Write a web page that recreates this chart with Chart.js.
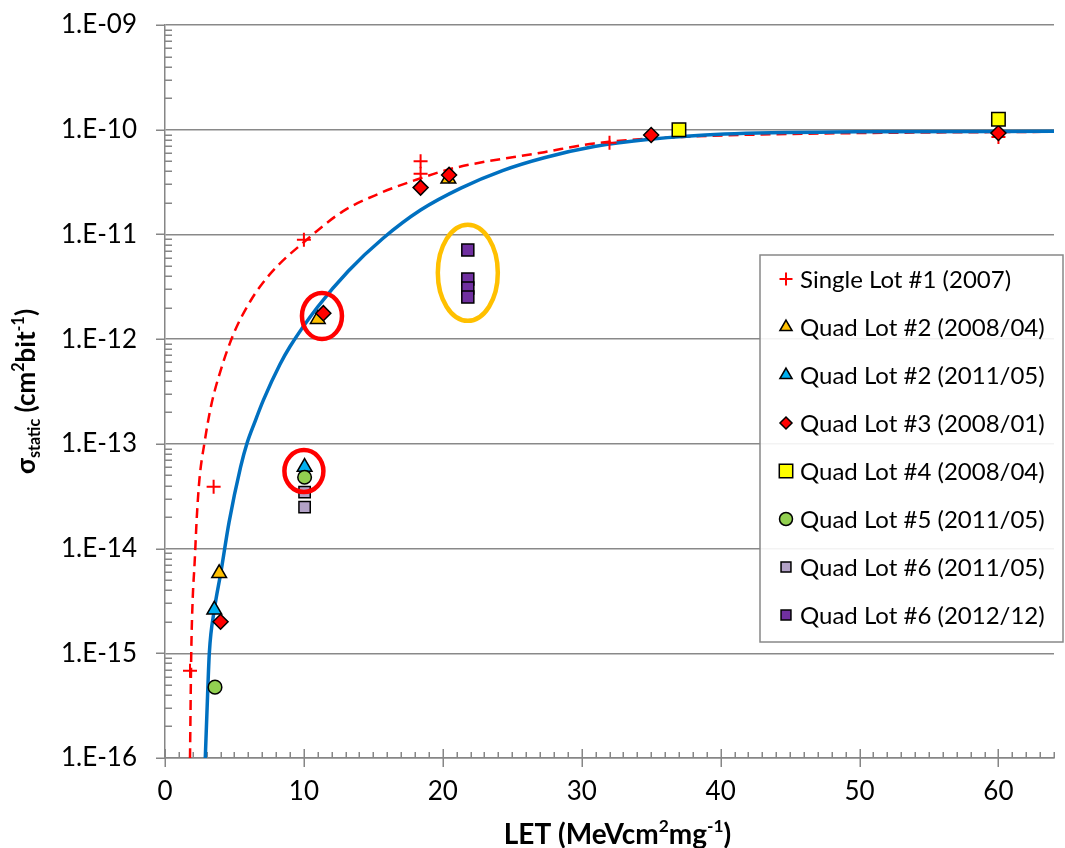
<!DOCTYPE html>
<html><head><meta charset="utf-8">
<script src="https://cdn.jsdelivr.net/npm/chart.js@4.4.1/dist/chart.umd.min.js"></script>
<style>html,body{margin:0;padding:0;background:#fff}canvas{display:block}</style>
</head><body>
<canvas id="c" width="1065" height="848"></canvas>
<script>
const FONT = 'Lato, "Open Sans", sans-serif';

// ---- data ----
const seriesLabels = [
  'Single Lot #1 (2007)', 'Quad Lot #2 (2008/04)', 'Quad Lot #2 (2011/05)', 'Quad Lot #3 (2008/01)',
  'Quad Lot #4 (2008/04)', 'Quad Lot #5 (2011/05)', 'Quad Lot #6 (2011/05)', 'Quad Lot #6 (2012/12)'
];
const single1X = [1.8, 3.5, 10.0, 18.4, 18.4, 32.0, 60.0];
const single1Y = [6.8e-16, 3.9e-14, 8.9e-12, 5.0e-11, 3.8e-11, 7.5e-11, 8.5e-11];
const quad2aX = [3.9, 11.0, 20.4];
const quad2aY = [5.8e-15, 1.55e-12, 3.4e-11];
const quad2bX = [3.55, 10.05];
const quad2bY = [2.6e-15, 6.0e-14];
const quad3X = [4.0, 11.4, 18.4, 20.45, 35.0, 60.0];
const quad3Y = [2.0e-15, 1.77e-12, 2.8e-11, 3.7e-11, 8.9e-11, 9.3e-11];
const quad4X = [37.0, 60.0];
const quad4Y = [1.0e-10, 1.26e-10];
const quad5X = [3.6, 10.05];
const quad5Y = [4.75e-16, 4.8e-14];
const quad6aX = [10.05, 10.05];
const quad6aY = [3.46e-14, 2.49e-14];
const quad6bX = [21.8, 21.8, 21.8, 21.8];
const quad6bY = [7.1e-12, 3.75e-12, 3.08e-12, 2.52e-12];

// fitted curves
const fitRedX = [1.8, 1.89, 1.99, 2.13, 2.29, 2.48, 2.84, 3.31, 4.02, 4.96, 6.14, 7.57, 10.2, 12.8, 15.4, 18.0, 20.8, 27.3, 30.9, 37.9, 45.0, 54.5, 64.0];
const fitRedY = [1e-16, 1e-15, 3.2e-15, 7.2e-15, 2.0e-14, 4.6e-14, 1.02e-13, 2.28e-13, 5.1e-13, 1.14e-12, 2.3e-12, 4.2e-12, 8.9e-12, 1.66e-11, 2.45e-11, 3.3e-11, 4.3e-11, 6.1e-11, 7.4e-11, 8.6e-11, 9.1e-11, 9.4e-11, 9.55e-11];
const fitBlueX = [2.9, 3.05, 3.19, 3.55, 4.02, 4.61, 5.44, 5.91, 6.5, 7.09, 8.28, 9.0, 11.0, 13.2, 15.7, 18.4, 21.3, 24.3, 27.3, 30.9, 34.9, 40.3, 49.8, 64.0];
const fitBlueY = [1e-16, 3.5e-16, 1e-15, 2.6e-15, 5.9e-15, 1.78e-14, 6.0e-14, 1.02e-13, 1.66e-13, 2.63e-13, 5.75e-13, 8.5e-13, 2.04e-12, 4.48e-12, 9.2e-12, 1.71e-11, 2.77e-11, 4.07e-11, 5.4e-11, 6.9e-11, 8.1e-11, 9.1e-11, 9.55e-11, 9.65e-11];

// highlight ellipses (centres in data units)
const highlightX = [11.3, 10.0, 21.8];
const highlightY = [1.66e-12, 5.5e-14, 4.3e-12];

const xTickValues = [0, 10, 20, 30, 40, 50, 60];
const yDecades = [-16, -15, -14, -13, -12, -11, -10, -9];

// ---- styles ----
const highlightStyle = [
  {rx: 20, ry: 23, color: '#FF0000'},
  {rx: 19.5, ry: 21, color: '#FF0000'},
  {rx: 30, ry: 48, color: '#FFC000'}
];
const markerStyles = [
  {pointStyle: 'cross', radius: 7, bg: '#FF0000', border: '#FF0000', bw: 2, lr: 6.5},
  {pointStyle: 'triangle', radius: 8.5, bg: '#FFC000', border: '#000', bw: 1.5, lr: 7},
  {pointStyle: 'triangle', radius: 8.5, bg: '#00B0F0', border: '#000', bw: 1.5, lr: 7},
  {pointStyle: 'rectRot', radius: 7.5, bg: '#FF0000', border: '#000', bw: 1.5, lr: 6},
  {pointStyle: 'rect', radius: 9.5, bg: '#FFFF00', border: '#000', bw: 1.5, lr: 9.5},
  {pointStyle: 'circle', radius: 6.8, bg: '#92D050', border: '#000', bw: 1.5, lr: 6.5},
  {pointStyle: 'rect', radius: 8, bg: '#B3A2C7', border: '#000', bw: 1.5, lr: 7},
  {pointStyle: 'rect', radius: 8.5, bg: '#7030A0', border: '#000', bw: 1.5, lr: 7}
];
const seriesX = [single1X, quad2aX, quad2bX, quad3X, quad4X, quad5X, quad6aX, quad6bX];
const seriesY = [single1Y, quad2aY, quad2bY, quad3Y, quad4Y, quad5Y, quad6aY, quad6bY];

const toPts = (xs, ys) => xs.map((x, i) => ({x, y: ys[i]}));

const datasets = [];
seriesLabels.forEach((lab, i) => {
  const s = markerStyles[i];
  datasets.push({
    label: lab, data: toPts(seriesX[i], seriesY[i]),
    pointStyle: s.pointStyle, pointRadius: s.radius, pointHoverRadius: s.radius,
    backgroundColor: s.bg, borderColor: s.border, borderWidth: s.bw,
    showLine: false, order: -i
  });
});
datasets.push({
  label: 'fitRed', data: toPts(fitRedX, fitRedY), showLine: true, pointRadius: 0,
  borderColor: '#FF0000', borderWidth: 2.5, borderDash: [10, 6], cubicInterpolationMode: 'monotone',
  order: 20
});
datasets.push({
  label: 'fitBlue', data: toPts(fitBlueX, fitBlueY), showLine: true, pointRadius: 0,
  borderColor: '#0070C0', borderWidth: 3.5, cubicInterpolationMode: 'monotone',
  order: 10
});

const isMajor = v => Math.abs(Math.log10(v) - Math.round(Math.log10(v))) < 1e-6;

function drawMarker(ctx, style, r, x, y) {
  ctx.save();
  ctx.fillStyle = style.bg; ctx.strokeStyle = style.border; ctx.lineWidth = style.bw;
  ctx.beginPath();
  if (style.pointStyle === 'cross') {
    ctx.moveTo(x - r, y); ctx.lineTo(x + r, y); ctx.moveTo(x, y - r); ctx.lineTo(x, y + r);
    ctx.stroke(); ctx.restore(); return;
  }
  if (style.pointStyle === 'triangle') {
    ctx.moveTo(x, y - r);
    ctx.lineTo(x + Math.sin(2 * Math.PI / 3) * r, y - Math.cos(2 * Math.PI / 3) * r);
    ctx.lineTo(x + Math.sin(4 * Math.PI / 3) * r, y - Math.cos(4 * Math.PI / 3) * r);
    ctx.closePath();
  } else if (style.pointStyle === 'rectRot') {
    ctx.moveTo(x, y - r); ctx.lineTo(x + r, y); ctx.lineTo(x, y + r); ctx.lineTo(x - r, y); ctx.closePath();
  } else if (style.pointStyle === 'rect') {
    const s = r * Math.SQRT1_2; ctx.rect(x - s, y - s, 2 * s, 2 * s);
  } else {
    ctx.arc(x, y, r, 0, Math.PI * 2);
  }
  ctx.fill(); ctx.stroke(); ctx.restore();
}

function partSize(p, size) { return p.m === 'n' ? size : size * 0.62; }
function richWidth(ctx, parts, size, bold) {
  let w = 0;
  parts.forEach(p => {
    ctx.font = (bold ? 'bold ' : '') + partSize(p, size) + 'px ' + FONT;
    w += ctx.measureText(p.t).width;
  });
  return w;
}
function drawRich(ctx, parts, cx, cy, size, bold) {
  const w = richWidth(ctx, parts, size, bold);
  let x = cx - w / 2;
  ctx.textBaseline = 'middle'; ctx.textAlign = 'left'; ctx.fillStyle = '#000';
  parts.forEach(p => {
    ctx.font = (bold ? 'bold ' : '') + partSize(p, size) + 'px ' + FONT;
    const dy = p.m === 'sup' ? -size * 0.3 : (p.m === 'sub' ? size * 0.3 : 0);
    ctx.fillText(p.t, x, cy + dy);
    x += ctx.measureText(p.t).width;
  });
}

const decorPlugin = {
  id: 'decor',
  beforeDatasetsDraw(chart) {
    const ctx = chart.ctx, xs = chart.scales.x, ys = chart.scales.y;
    const ax = xs.left, ay = ys.bottom;
    ctx.save();
    ctx.strokeStyle = '#868686'; ctx.lineWidth = 1.5;
    ctx.beginPath();
    ys.ticks.forEach(t => {
      const py = Math.round(ys.getPixelForValue(t.value)) + 0.25;
      if (isMajor(t.value)) { ctx.moveTo(ax - 9, py); ctx.lineTo(ax, py); }
      else { ctx.moveTo(ax, py); ctx.lineTo(ax + 7, py); }
    });
    for (let v = 0; v <= xs.max; v += 1) {
      const px = Math.round(xs.getPixelForValue(v)) + 0.25;
      if (v % 10 === 0) { ctx.moveTo(px, ay - 9); ctx.lineTo(px, ay + 9); }
      else { ctx.moveTo(px, ay - 6); ctx.lineTo(px, ay); }
    }
    ctx.stroke();
    ctx.restore();
  },
  afterDatasetsDraw(chart) {
    const ctx = chart.ctx, xs = chart.scales.x, ys = chart.scales.y;
    ctx.save();
    highlightX.forEach((hx, i) => {
      const st = highlightStyle[i];
      ctx.beginPath();
      ctx.ellipse(xs.getPixelForValue(hx), ys.getPixelForValue(highlightY[i]), st.rx, st.ry, 0, 0, Math.PI * 2);
      ctx.strokeStyle = st.color; ctx.lineWidth = 4.5; ctx.stroke();
    });
    ctx.restore();
  },
  afterDraw(chart) {
    const ctx = chart.ctx, area = chart.chartArea;
    const lx = 760, ly = 255, lw = 303, lh = 387;
    ctx.save();
    ctx.fillStyle = 'rgba(255,255,255,0.9)';
    ctx.fillRect(lx, ly, lw, lh);
    ctx.strokeStyle = '#888'; ctx.lineWidth = 1.5;
    ctx.strokeRect(lx, ly, lw, lh);
    seriesLabels.forEach((lab, i) => {
      const cy = 279 + i * 48;
      drawMarker(ctx, markerStyles[i], markerStyles[i].lr, 786, cy);
      ctx.font = '24px ' + FONT; ctx.fillStyle = '#000';
      ctx.textBaseline = 'middle'; ctx.textAlign = 'left';
      ctx.fillText(lab, 800, cy + 1);
    });
    const cx = (area.left + area.right) / 2 + 8;
    drawRich(ctx, [{t: 'LET (MeVcm', m: 'n'}, {t: '2', m: 'sup'}, {t: 'mg', m: 'n'}, {t: '-1', m: 'sup'}, {t: ')', m: 'n'}], cx, 835, 28, true);
    ctx.translate(27, (area.top + area.bottom) / 2);
    ctx.rotate(-Math.PI / 2);
    drawRich(ctx, [{t: 'σ', m: 'n'}, {t: 'static', m: 'sub'}, {t: ' (cm', m: 'n'}, {t: '2', m: 'sup'}, {t: 'bit', m: 'n'}, {t: '-1', m: 'sup'}, {t: ')', m: 'n'}], 0, 0, 26, true);
    ctx.restore();
  }
};

new Chart(document.getElementById('c'), {
  type: 'scatter',
  data: {datasets},
  options: {
    responsive: false, animation: false,
    layout: {padding: {top: 25, right: 0, left: 0, bottom: 0}},
    plugins: {legend: {display: false}, tooltip: {enabled: false}},
    elements: {line: {tension: 0}},
    scales: {
      x: {
        type: 'linear', min: 0, max: 64,
        afterBuildTicks(s) { s.ticks = xTickValues.map(v => ({value: v})); },
        afterFit(s) { s.height = 90; s.paddingLeft = 0; s.paddingRight = 0; },
        ticks: {font: {family: FONT, size: 26}, color: '#000', padding: 18, maxRotation: 0, autoSkip: false,
          callback: v => String(v)},
        grid: {display: false, drawTicks: false},
        border: {display: true, color: '#868686', width: 1.5}
      },
      y: {
        type: 'logarithmic', min: 1e-16, max: 1e-9,
        afterBuildTicks(s) {
          const t = [];
          yDecades.forEach(e => {
            const n = e === -9 ? 1 : 9;
            for (let m = 1; m <= n; m++) t.push({value: m * Math.pow(10, e), major: m === 1});
          });
          s.ticks = t;
        },
        afterFit(s) { s.width = 165; s.paddingTop = 0; s.paddingBottom = 0; },
        ticks: {font: {family: FONT, size: 26}, color: '#000', padding: 28, autoSkip: false,
          callback: v => {
            if (!isMajor(v)) return '';
            const e = Math.round(Math.log10(v));
            return '1.E-' + String(-e).padStart(2, '0');
          }},
        grid: {drawTicks: false, lineWidth: 1.5,
          color: c => (c.tick && isMajor(c.tick.value)) ? '#898989' : 'rgba(0,0,0,0)'},
        border: {display: true, color: '#868686', width: 1.5}
      }
    }
  },
  plugins: [decorPlugin]
});
</script>
</body></html>
